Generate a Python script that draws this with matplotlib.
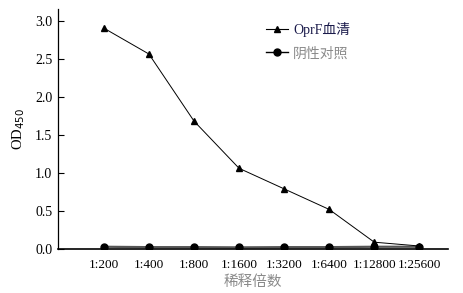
import matplotlib
matplotlib.use("Agg")
import matplotlib.pyplot as plt
from matplotlib.lines import Line2D

plt.rcParams['font.family'] = ['Liberation Serif', 'Noto Sans CJK SC']

# 稀释倍数
dilutions = ['1:200', '1:400', '1:800', '1:1600', '1:3200', '1:6400', '1:12800', '1:25600']
oprf_serum = [2.90, 2.56, 1.68, 1.06, 0.79, 0.52, 0.09, 0.04]
negative = [0.03, 0.025, 0.025, 0.022, 0.025, 0.025, 0.03, 0.03]

gray_txt = '#8a8a8a'

fig = plt.figure(figsize=(4.63, 2.93), dpi=100)
ax = fig.add_axes([0.125, 0.150, 0.843, 0.819])

x = list(range(len(dilutions)))
ax.plot(x, negative, color='#555555', lw=1.6, marker='o', ms=5,
        markerfacecolor='black', markeredgecolor='black', zorder=2)
ax.plot(x, oprf_serum, color='black', lw=0.7, marker='^', ms=5,
        markerfacecolor='black', zorder=3)

ax.set_xlim(-1.02, 7.64)
ax.set_ylim(0, 3.15)
ax.set_yticks([0, 0.5, 1.0, 1.5, 2.0, 2.5, 3.0])
ax.set_yticklabels(['0.0', '0.5', '1.0', '1.5', '2.0', '2.5', '3.0'])
ax.set_xticks(x)
ax.set_xticklabels(dilutions)
ax.tick_params(axis='y', direction='in', length=4, width=0.8, labelsize=10, pad=4)
ax.tick_params(axis='x', length=0, labelsize=9.5, pad=7)

for s in ['top', 'right']:
    ax.spines[s].set_visible(False)
ax.spines['left'].set_linewidth(0.9)
ax.spines['bottom'].set_linewidth(1.2)

ax.set_ylabel('OD$_{450}$', fontsize=10.5, labelpad=6)
ax.set_xlabel('稀释倍数', fontsize=10.5, color=gray_txt, labelpad=3)

h1 = Line2D([], [], color='black', lw=0.8, marker='^', ms=5)
h2 = Line2D([], [], color='black', lw=1.0, marker='o', ms=5)
leg = ax.legend([h1, h2], ['OprF血清', '阴性对照'], loc='upper left',
                bbox_to_anchor=(0.5, 1.0), frameon=False, fontsize=10,
                handlelength=1.6, handletextpad=0.4, labelspacing=0.75)
texts = leg.get_texts()
texts[0].set_color('#1a1a4a')
texts[1].set_color(gray_txt)

fig.savefig('out.png', dpi=100)
